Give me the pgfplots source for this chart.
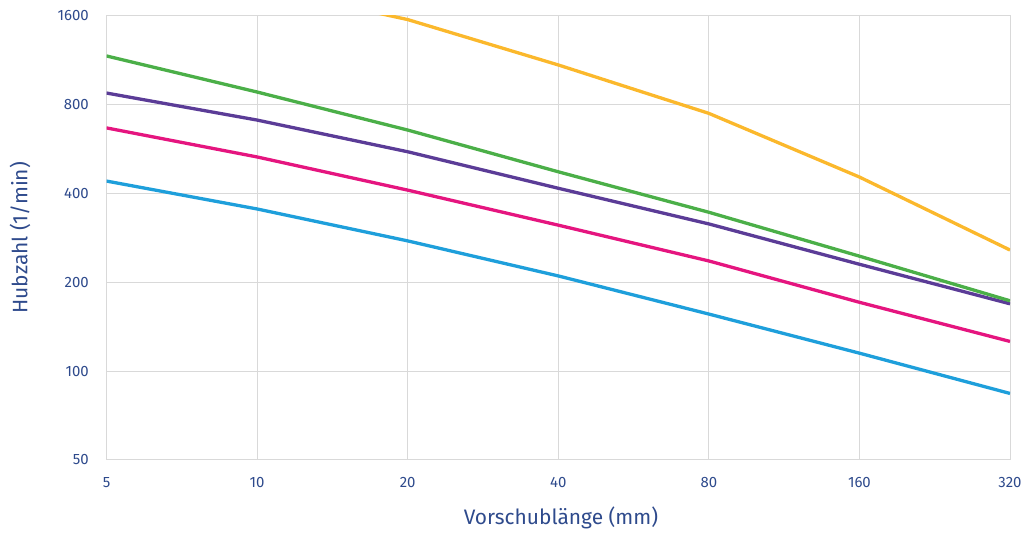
\documentclass[border=0pt]{standalone}
\usepackage{pgfplots}
\pgfplotsset{compat=1.18}
\usepackage{fontspec}
\setmainfont{Fira Sans}
\definecolor{textblue}{HTML}{2E4A8C}
\definecolor{gridgray}{HTML}{D9D9D9}
\definecolor{cblue}{HTML}{1E9FDB}
\definecolor{cpink}{HTML}{E5157F}
\definecolor{cpurple}{HTML}{5B3C97}
\definecolor{cgreen}{HTML}{4BAF48}
\definecolor{corange}{HTML}{FBB82C}
\begin{document}
\begin{tikzpicture}
\begin{axis}[
    at={(106.5bp,76bp)}, anchor=south west,
    scale only axis, width=903.5bp, height=444.5bp,
    xmode=log, ymode=log,
    xmin=5, xmax=320, ymin=50, ymax=1600,
    xtick={5,10,20,40,80,160,320},
    xticklabels={5,10,20,40,80,160,320},
    ytick={50,100,200,400,800,1600},
    yticklabels={50,100,200,400,800,1600},
    minor xtick={}, minor ytick={},
    major tick length=0pt,
    grid=major,
    major grid style={draw=gridgray, line width=1bp},
    axis line style={draw=gridgray, line width=1bp},
    tick label style={text=textblue, font=\fontsize{15}{18}\selectfont, inner sep=0pt},
    xticklabel style={anchor=center, yshift=-23bp},
    yticklabel style={anchor=east, xshift=-17.5bp},
    label style={text=textblue, font=\fontsize{21}{24}\selectfont, inner sep=0pt},
    xlabel={Vorschublänge (mm)},
    ylabel={Hubzahl (1/min)},
    xlabel style={at={(axis description cs:0.503,-0.1305)}, anchor=center},
    ylabel style={at={(axis description cs:-0.0957,0.5)}, anchor=center},
    every axis plot/.append style={line width=3.3bp, line join=round},
]
\addplot[cblue] table {
x y
5 440
10 354
20 276
40 210
80 156
160 115
320 84
};
\addplot[cpink] table {
x y
5 666
10 531
20 410
40 312
80 236
160 171
320 126
};
\addplot[cpurple] table {
x y
5 874
10 708
20 553
40 416
80 315
160 230
320 169
};
\addplot[cgreen] table {
x y
5 1167
10 881
20 655
40 473
80 345
160 245
320 173
};
\addplot[corange] table {
x y
10 2000
20 1550
40 1088
80 746
160 454
320 257
};
\draw[gridgray, line width=2bp] (rel axis cs:0,0) -- (rel axis cs:1,0);
\end{axis}
\pgfresetboundingbox
\path (0,0) rectangle (1025bp,536bp);
\end{tikzpicture}
\end{document}
